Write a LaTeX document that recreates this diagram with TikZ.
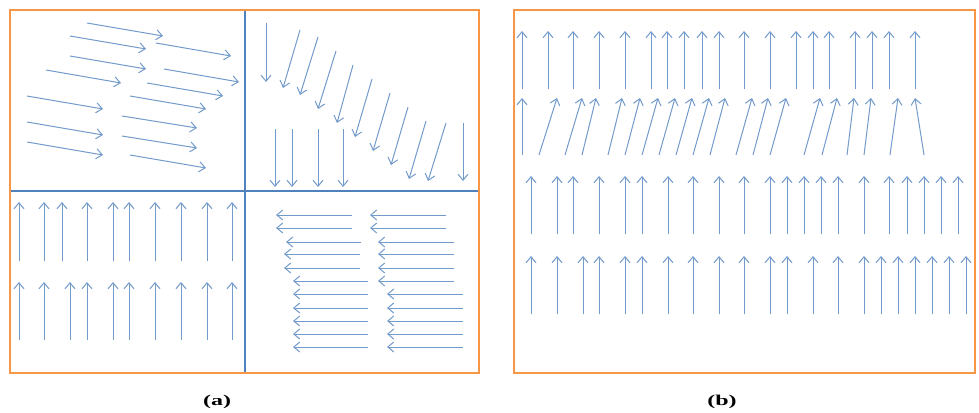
\documentclass[tikz,border=0pt]{standalone}
\usepackage{fontspec}
\setmainfont{Liberation Serif}
\usetikzlibrary{arrows.meta}
\definecolor{vecblue}{HTML}{4F81BD}
\definecolor{frameorange}{HTML}{F79646}
\tikzset{every picture/.style={line width=0.75pt}}
\tikzset{
  vec/.style={draw=vecblue!80, line width=1pt, -{Straight Barb[length=6pt,width=10pt]}},
  frame/.style={draw=frameorange, line width=2.2pt},
  divider/.style={draw=vecblue, line width=2.8pt},
  caption/.style={font=\bfseries\fontsize{15}{17}\selectfont, xscale=1.6, inner sep=0pt}
}

\begin{document}
\begin{tikzpicture}[x=1pt,y=-1pt]
    \useasboundingbox (0,0) rectangle (979,412);

    % 分隔线
    \draw[divider] (245,10) -- (245,373);
    \draw[divider] (10,191) -- (479,191);

    % 外框
    \draw[frame] (10,10) rectangle (479,373);
    \draw[frame] (514,10) rectangle (975,373);

    % (a) 左上: 向右
    \foreach \xa/\ya/\xb/\yb in {87/23/163/36, 70/36/146/49, 156/43/231/56,
        70/56/146/69, 164/69/239/82, 46/70/121/83, 147/83/223/96,
        27/96/103/109, 130/96/206/109, 122/116/197/128, 27/122/103/135,
        122/136/197/148, 27/142/103/155, 130/155/206/168}
        \draw[vec] (\xa,\ya) -- (\xb,\yb);

    % (a) 右上: 斜向下
    \foreach \xa/\ya/\xb/\yb in {266/23/266/82, 300/30/283/88, 318/37/300/95,
        336/51/318/109, 353/65/337/123, 372/79/355/137, 390/93/373/151,
        408/107/391/165, 426/121/409/179, 446/123/428/181, 463/123/463/181}
        \draw[vec] (\xa,\ya) -- (\xb,\yb);
    \foreach \x in {275,292,318,343}
        \draw[vec] (\x,129) -- (\x,187);

    % (a) 左下: 向上
    \foreach \x in {19,44,62,87,113,129,155,181,207,232}
        \draw[vec] (\x,261) -- (\x,202);
    \foreach \x in {19,44,70,87,113,129,155,181,207,232}
        \draw[vec] (\x,340) -- (\x,282);

    % (a) 右下: 向左
    \foreach \y/\xa/\xb in {215/352/276, 228/352/276, 242/361/286,
        254/360/284, 268/360/284, 281/368/293, 294/368/293, 308/368/293,
        321/368/293, 334/368/293, 347/368/293}
        \draw[vec] (\xa,\y) -- (\xb,\y);
    \foreach \y/\xa/\xb in {215/446/370, 228/446/370, 242/454/378,
        254/454/378, 268/454/378, 281/454/378, 294/463/387, 308/463/387,
        321/463/387, 334/463/387, 347/463/387}
        \draw[vec] (\xa,\y) -- (\xb,\y);

    % (b) 第一行
    \foreach \x in {522,548,573,599,625,651,667,684,702,719,744,770,796,813,
        829,855,872,889,915}
        \draw[vec] (\x,89) -- (\x,31);

    % (b) 第二行: 倾斜
    \foreach \xa/\xb in {522/522, 539/557, 565/582, 582/596, 608/622,
        625/640, 642/658, 659/675, 676/692, 693/709, 710/725, 736/752,
        753/768, 770/786, 804/820, 822/837, 847/854, 864/871, 890/898,
        924/915}
        \draw[vec] (\xa,155) -- (\xb,98);

    % (b) 第三、四行
    \foreach \x in {531,557,573,599,625,642,668,693,719,744,770,787,804,821,
        838,864,889,907,924,941,958}
        \draw[vec] (\x,234) -- (\x,176);
    \foreach \x in {531,557,583,599,625,642,668,693,719,744,770,787,813,838,
        864,881,898,915,932,949,966}
        \draw[vec] (\x,314) -- (\x,256);

    % 标注
    \node[caption] (capa) at (217,402) {(a)};
    \node[caption] (capb) at (722,402) {(b)};
\end{tikzpicture}
\end{document}
